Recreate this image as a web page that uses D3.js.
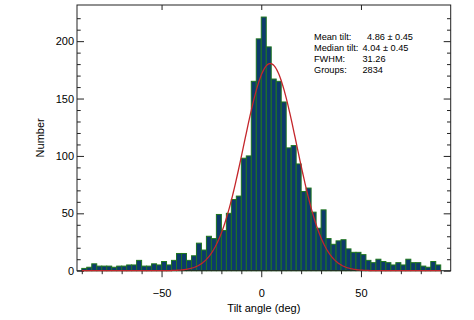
<!DOCTYPE html>
<html lang="en">
<head>
    <meta charset="UTF-8">
    <title>Tilt angle histogram</title>
    <script src="https://cdnjs.cloudflare.com/ajax/libs/d3/7.8.5/d3.min.js"></script>
    <style>
        body {
            margin: 0;
            background-color: #ffffff;
            font-family: "Liberation Sans", Arial, Helvetica, sans-serif;
        }
        svg text {
            fill: #000;
        }
    </style>
</head>
<body>
    <div id="plot"></div>

    <script>
        // Histogram counts, 2.5 deg bins from -90 to 90
        const binStart = -90;
        const binWidth = 2.5;
        const counts = [
            2, 3, 6, 4, 4, 4, 3, 4, 4, 5, 5, 9, 4, 4, 6, 5, 8, 5,
            9, 15, 15, 9, 13, 24, 18, 30, 28, 49, 35, 50, 62, 65, 98, 100,
            165, 202, 221, 195, 167, 165, 147, 107, 109, 93, 69, 72, 51, 37,
            53, 28, 23, 26, 27, 19, 16, 16, 14, 9, 7, 10, 8, 7, 5, 7,
            5, 10, 7, 7, 4, 3, 8, 5
        ];

        // Gaussian fit parameters
        const fitAmp = 180.5;
        const fitCenter = 4.5;
        const fitFwhm = 31.26;

        // Axis ticks
        const xMajor = [-50, 0, 50];
        const xMinor = [-90, -80, -70, -60, -40, -30, -20, -10, 10, 20, 30, 40, 60, 70, 80, 90];
        const yMajor = [0, 50, 100, 150, 200];
        const yMinor = [10, 20, 30, 40, 60, 70, 80, 90, 110, 120, 130, 140, 160, 170, 180, 190, 210, 220];

        // Stats box
        const statLabels = ["Mean tilt:", "Median tilt:", "FWHM:", "Groups:"];
        const statValues = ["4.86 \u00b1 0.45", "4.04 \u00b1 0.45", "31.26", "2834"];

        const W = 474, H = 320;
        const margin = {top: 5, right: 23.3, bottom: 49.3, left: 77};
        const width = W - margin.left - margin.right;
        const height = H - margin.top - margin.bottom;

        const svg = d3.select("#plot")
            .append("svg")
                .attr("width", W)
                .attr("height", H)
            .append("g")
                .attr("transform", `translate(${margin.left},${margin.top})`);

        const x = d3.scaleLinear().domain([-92.4, 95]).range([0, width]);
        const y = d3.scaleLinear().domain([0, 231.5]).range([height, 0]);

        const bins = counts.map((c, i) => ({lo: binStart + i * binWidth, count: c}));

        // Bars
        svg.append("g")
            .selectAll("rect")
            .data(bins)
            .join("rect")
                .attr("x", d => x(d.lo))
                .attr("width", d => x(d.lo + binWidth) - x(d.lo))
                .attr("y", d => y(d.count))
                .attr("height", d => y(0) - y(d.count))
                .attr("fill", "#0c3a6c")
                .attr("stroke", "#1f761f")
                .attr("stroke-width", 1);

        // Frame
        svg.append("rect")
            .attr("width", width)
            .attr("height", height)
            .attr("fill", "none")
            .attr("stroke", "#222")
            .attr("stroke-width", 1);

        // Axes helper: strip the domain path, style ticks
        function styleAxis(g) {
            g.select(".domain").remove();
            g.selectAll(".tick line").attr("stroke", "#222");
            g.selectAll("text")
                .style("font-family", '"Liberation Sans", Arial, Helvetica, sans-serif')
                .style("font-size", "11px")
                .attr("fill", "#000");
        }

        // Left axis (ticks inside)
        svg.append("g")
            .call(d3.axisLeft(y).tickValues(yMajor).tickSizeInner(-7).tickSizeOuter(0).tickPadding(3))
            .call(styleAxis);
        svg.append("g")
            .call(d3.axisLeft(y).tickValues(yMinor).tickSizeInner(-3.7).tickSizeOuter(0).tickFormat(""))
            .call(styleAxis);

        // Right axis (ticks inside, no labels)
        svg.append("g")
            .attr("transform", `translate(${width},0)`)
            .call(d3.axisRight(y).tickValues(yMajor).tickSizeInner(-7).tickSizeOuter(0).tickFormat(""))
            .call(styleAxis);
        svg.append("g")
            .attr("transform", `translate(${width},0)`)
            .call(d3.axisRight(y).tickValues(yMinor).tickSizeInner(-3.7).tickSizeOuter(0).tickFormat(""))
            .call(styleAxis);

        // Bottom axis (ticks outside)
        svg.append("g")
            .attr("transform", `translate(0,${height})`)
            .call(d3.axisBottom(x).tickValues(xMajor).tickSizeInner(6.5).tickSizeOuter(0).tickPadding(12))
            .call(styleAxis);
        svg.append("g")
            .attr("transform", `translate(0,${height})`)
            .call(d3.axisBottom(x).tickValues(xMinor).tickSizeInner(3.5).tickSizeOuter(0).tickFormat(""))
            .call(styleAxis);

        // Top axis (major ticks only, inside)
        svg.append("g")
            .call(d3.axisTop(x).tickValues(xMajor).tickSizeInner(-5).tickSizeOuter(0).tickFormat(""))
            .call(styleAxis);

        // Gaussian fit curve
        const sigma = fitFwhm / (2 * Math.sqrt(2 * Math.log(2)));
        const fitPts = d3.range(-90, 90.01, 0.5).map(t => ({
            t, v: fitAmp * Math.exp(-((t - fitCenter) ** 2) / (2 * sigma * sigma))
        }));
        svg.append("path")
            .datum(fitPts)
            .attr("fill", "none")
            .attr("stroke", "#c4262b")
            .attr("stroke-width", 1.3)
            .attr("d", d3.line().x(d => x(d.t)).y(d => y(d.v)));

        // Axis titles
        svg.append("text")
            .attr("text-anchor", "middle")
            .attr("x", width / 2)
            .attr("y", height + 41.5)
            .style("font-size", "11px")
            .text("Tilt angle (deg)");

        svg.append("text")
            .attr("text-anchor", "middle")
            .attr("transform", "rotate(-90)")
            .attr("x", -height / 2)
            .attr("y", 40 - margin.left + 4)
            .style("font-size", "11px")
            .text("Number");

        // Stats text
        const stats = svg.append("g")
            .style("font-size", "9.2px");
        statLabels.forEach((s, i) => {
            stats.append("text")
                .attr("x", 314 - margin.left)
                .attr("y", 39.5 + i * 11.2 - margin.top)
                .text(s);
            stats.append("text")
                .attr("x", (i === 0 ? 367 : 362.5) - margin.left)
                .attr("y", 39.5 + i * 11.2 - margin.top)
                .text(statValues[i]);
        });
    </script>
</body>
</html>
